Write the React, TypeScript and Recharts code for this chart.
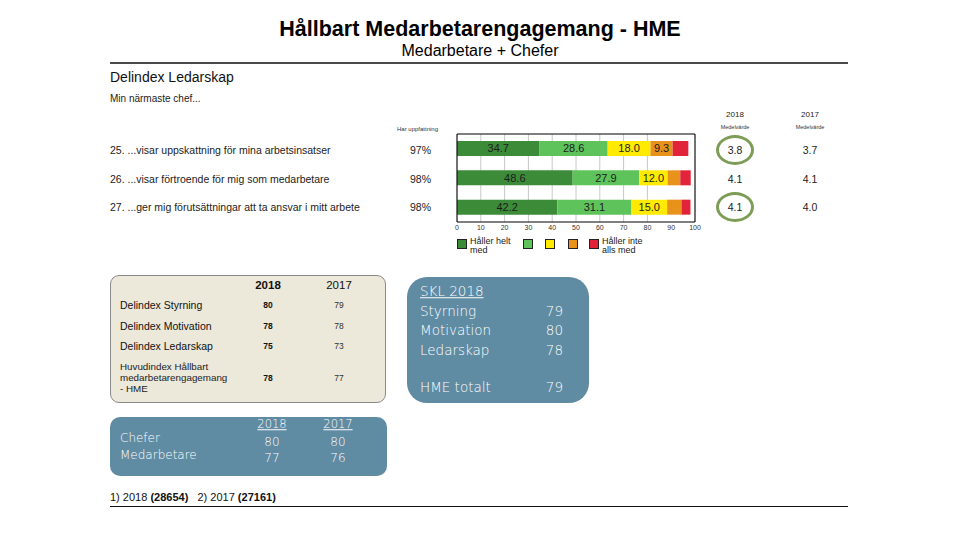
import React from "react";
import { BarChart, Bar, XAxis, YAxis, CartesianGrid, LabelList } from "recharts";

// survey items (Delindex Ledarskap)
const questions = [
  "25. ...visar uppskattning för mina arbetsinsatser",
  "26. ...visar förtroende för mig som medarbetare",
  "27. ...ger mig förutsättningar att ta ansvar i mitt arbete",
];
const harUppfattning = ["97%", "98%", "98%"];
const heltMed = [34.7, 48.6, 42.2];
const ganskaMed = [28.6, 27.9, 31.1];
const mitten = [18.0, 12.0, 15.0];
const ganskaInte = [9.3, 5.3, 6.0];
const inteAlls = [6.6, 4.4, 3.8];
const medel2018 = ["3.8", "4.1", "4.1"];
const medel2017 = ["3.7", "4.1", "4.0"];
const circled = [true, false, true];
const xTicks = [0, 10, 20, 30, 40, 50, 60, 70, 80, 90, 100];

// index table
const indexRows = ["Delindex Styrning", "Delindex Motivation", "Delindex Ledarskap"];
const indexRowsHme = ["Huvudindex Hållbart", "medarbetarengagemang", "- HME"];
const index2018 = [80, 78, 75, 78];
const index2017 = [79, 78, 73, 77];

// SKL comparison
const sklLabels = ["Styrning", "Motivation", "Ledarskap", "HME totalt"];
const sklValues = [79, 80, 78, 79];

// chefer / medarbetare
const groups = ["Chefer", "Medarbetare"];
const group2018 = [80, 77];
const group2017 = [80, 76];

const n2018 = 28654;
const n2017 = 27161;

const series = [
  { key: "heltMed", color: "#3b8b38", legend: ["Håller helt", "med"] },
  { key: "ganskaMed", color: "#5fc35c", legend: null },
  { key: "mitten", color: "#ffea00", legend: null },
  { key: "ganskaInte", color: "#e8921c", legend: null },
  { key: "inteAlls", color: "#e2243a", legend: ["Håller inte", "alls med"] },
];

const chartData = questions.map((q, i) => ({
  q: q.slice(0, 2),
  heltMed: heltMed[i],
  ganskaMed: ganskaMed[i],
  mitten: mitten[i],
  ganskaInte: ganskaInte[i],
  inteAlls: inteAlls[i],
}));

const ARIAL = "'Liberation Sans', Arial, sans-serif";
const THIN = "'DejaVu Sans', Verdana, sans-serif";
const BLUE = "#5f8ba3";

function T({
  x,
  y,
  size,
  children,
  bold,
  align = "left",
  color = "#111",
  font = ARIAL,
  weight,
  underline,
}: any) {
  const tx = align === "center" ? "translate(-50%,-50%)" : align === "right" ? "translate(-100%,-50%)" : "translateY(-50%)";
  return (
    <div
      style={{
        position: "absolute",
        left: x,
        top: y,
        transform: tx,
        fontSize: size,
        lineHeight: 1,
        whiteSpace: "nowrap",
        fontFamily: font,
        fontWeight: weight ?? (bold ? 700 : 400),
        color,
        textDecoration: underline ? "underline" : "none",
      }}
    >
      {children}
    </div>
  );
}

function StackedBars() {
  return (
    <div style={{ position: "absolute", left: 447, top: 124 }}>
      <BarChart
        width={260}
        height={112}
        data={chartData}
        layout="vertical"
        margin={{ top: 9, right: 11, bottom: 0, left: 9 }}
        barSize={15}
      >
        <CartesianGrid xAxisId="b" yAxisId="l" horizontal={false} stroke="#c8c8c8" />
        <XAxis
          xAxisId="b"
          type="number"
          domain={[0, 100]}
          ticks={xTicks}
          tick={{ fontSize: 7, fill: "#333", fontFamily: ARIAL }}
          tickLine={false}
          tickSize={0}
          axisLine={{ stroke: "#000" }}
          tickMargin={3}
          height={14}
        />
        <XAxis
          xAxisId="t"
          orientation="top"
          type="number"
          domain={[0, 100]}
          tick={false}
          tickLine={false}
          axisLine={{ stroke: "#000" }}
          height={1}
        />
        <YAxis
          yAxisId="l"
          type="category"
          dataKey="q"
          tick={false}
          tickLine={false}
          axisLine={{ stroke: "#000" }}
          width={1}
        />
        <YAxis
          yAxisId="r"
          orientation="right"
          type="category"
          dataKey="q"
          tick={false}
          tickLine={false}
          axisLine={{ stroke: "#000" }}
          width={1}
        />
        {series.map((s) => (
          <Bar
            key={s.key}
            dataKey={s.key}
            stackId="a"
            xAxisId="b"
            yAxisId="l"
            fill={s.color}
            isAnimationActive={false}
          >
            <LabelList
              dataKey={s.key}
              position="center"
              formatter={(v: any) => (Number(v) >= 9 ? Number(v).toFixed(1) : "")}
              fill="#1c1c1c"
              fontSize={11}
              fontFamily={ARIAL}
            />
          </Bar>
        ))}
      </BarChart>
    </div>
  );
}

function Legend() {
  const xs = [457, 523, 545, 568, 589];
  return (
    <>
      {series.map((s, i) => (
        <React.Fragment key={s.key}>
          <div
            style={{
              position: "absolute",
              left: xs[i],
              top: 239,
              width: 10,
              height: 10,
              background: s.color,
              border: "1px solid #222",
              boxSizing: "border-box",
            }}
          />
          {s.legend && (
            <>
              <T x={xs[i] + 13} y={241} size={9} color="#222">{s.legend[0]}</T>
              <T x={xs[i] + 13} y={250} size={9} color="#222">{s.legend[1]}</T>
            </>
          )}
        </React.Fragment>
      ))}
    </>
  );
}

export default function App() {
  const rowY = [150, 179, 207];
  return (
    <div style={{ position: "absolute", left: 0, top: 0, width: 960, height: 540, background: "#fff", overflow: "hidden" }}>
      <T x={480} y={30} size={21.5} bold align="center" color="#000">Hållbart Medarbetarengagemang - HME</T>
      <T x={480} y={51} size={16} align="center" color="#000">Medarbetare + Chefer</T>
      <div style={{ position: "absolute", left: 110, top: 62, width: 738, height: 2, background: "#4a4a4a" }} />

      <T x={110} y={77} size={14} color="#111">Delindex Ledarskap</T>
      <T x={110} y={99} size={10} color="#222">Min närmaste chef...</T>
      <T x={397} y={129} size={6} color="#333">Har uppfattning</T>

      {questions.map((q, i) => (
        <React.Fragment key={q}>
          <T x={110} y={rowY[i]} size={10.5} color="#222">{q}</T>
          <T x={410} y={rowY[i]} size={10.5} color="#222">{harUppfattning[i]}</T>
          <T x={735} y={rowY[i]} size={10.5} align="center" color="#222">{medel2018[i]}</T>
          <T x={810} y={rowY[i]} size={10.5} align="center" color="#222">{medel2017[i]}</T>
          {circled[i] && (
            <div
              style={{
                position: "absolute",
                left: 735 - 19,
                top: rowY[i] - 15,
                width: 38,
                height: 30,
                borderRadius: "50%",
                border: "3px solid #7d9c55",
                boxSizing: "border-box",
              }}
            />
          )}
        </React.Fragment>
      ))}
      <T x={735} y={115} size={8} align="center" color="#222">2018</T>
      <T x={810} y={115} size={8} align="center" color="#222">2017</T>
      <T x={735} y={128} size={5.5} align="center" color="#333">Medelvärde</T>
      <T x={810} y={128} size={5.5} align="center" color="#333">Medelvärde</T>

      <StackedBars />
      <Legend />

      {/* index table */}
      <div
        style={{
          position: "absolute",
          left: 110,
          top: 275,
          width: 276,
          height: 128,
          background: "#ece8da",
          border: "1.5px solid #8a8a8a",
          borderRadius: 9,
          boxSizing: "border-box",
        }}
      />
      <T x={268} y={286} size={11.5} bold align="center">2018</T>
      <T x={339} y={286} size={11.5} align="center">2017</T>
      {indexRows.map((r, i) => (
        <React.Fragment key={r}>
          <T x={120} y={305 + i * 20.5} size={10.5}>{r}</T>
          <T x={268} y={305 + i * 20.5} size={8.5} bold align="center">{index2018[i]}</T>
          <T x={339} y={305 + i * 20.5} size={8.5} align="center" color="#333">{index2017[i]}</T>
        </React.Fragment>
      ))}
      {indexRowsHme.map((r, i) => (
        <T key={r} x={120} y={367 + i * 11} size={9.8} color="#222">{r}</T>
      ))}
      <T x={268} y={378} size={8.5} bold align="center">{index2018[3]}</T>
      <T x={339} y={378} size={8.5} align="center" color="#333">{index2017[3]}</T>

      {/* SKL box */}
      <div
        style={{
          position: "absolute",
          left: 407,
          top: 277,
          width: 182,
          height: 126,
          background: BLUE,
          borderRadius: 20,
        }}
      />
      <T x={420} y={292} size={13.5} color="#fff" font={THIN} weight={300} underline>SKL 2018</T>
      {sklLabels.map((l, i) => {
        const y = i < 3 ? 312 + i * 19.3 : 388;
        return (
          <React.Fragment key={l}>
            <T x={420} y={y} size={13.5} color="#fff" font={THIN} weight={300}>{l}</T>
            <T x={563} y={y} size={13.5} color="#fff" font={THIN} weight={300} align="right">{sklValues[i]}</T>
          </React.Fragment>
        );
      })}

      {/* chefer / medarbetare box */}
      <div
        style={{
          position: "absolute",
          left: 110,
          top: 417,
          width: 277,
          height: 59,
          background: BLUE,
          borderRadius: 10,
        }}
      />
      <T x={272} y={425} size={11.5} color="#fff" font={THIN} weight={300} align="center" underline>2018</T>
      <T x={338} y={425} size={11.5} color="#fff" font={THIN} weight={300} align="center" underline>2017</T>
      {groups.map((g, i) => (
        <React.Fragment key={g}>
          <T x={120} y={438 + i * 17} size={12} color="#fff" font={THIN} weight={300}>{g}</T>
          <T x={272} y={442 + i * 16} size={12} color="#fff" font={THIN} weight={300} align="center">{group2018[i]}</T>
          <T x={338} y={442 + i * 16} size={12} color="#fff" font={THIN} weight={300} align="center">{group2017[i]}</T>
        </React.Fragment>
      ))}

      <T x={110} y={497} size={11} color="#111">
        1) 2018 <b>({n2018})</b>&nbsp;&nbsp;&nbsp;2) 2017 <b>({n2017})</b>
      </T>
      <div style={{ position: "absolute", left: 110, top: 506, width: 738, height: 1, background: "#111" }} />
    </div>
  );
}
